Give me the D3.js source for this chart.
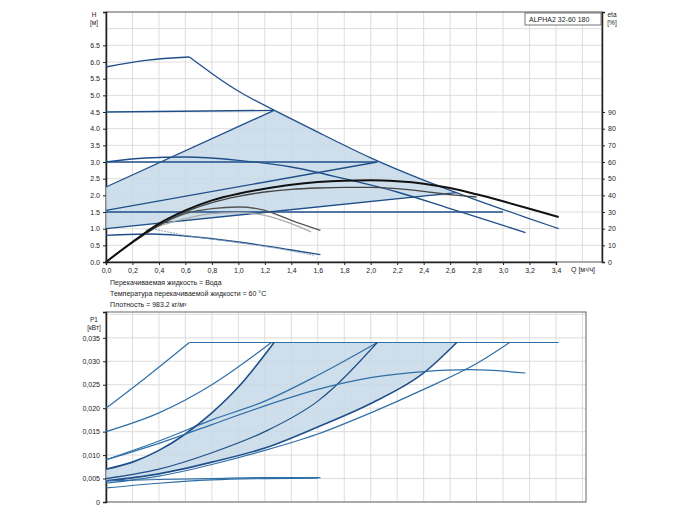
<!DOCTYPE html><html><head><meta charset="utf-8"><script src="https://cdn.jsdelivr.net/npm/d3@7"></script>
<style>body{margin:0;background:#fff}text{font-family:"Liberation Sans",Arial,sans-serif}</style></head><body><svg id="c" width="700" height="525"></svg><script>
const qTicks=[0,0.2,0.4,0.6,0.8,1.0,1.2,1.4,1.6,1.8,2.0,2.2,2.4,2.6,2.8,3.0,3.2,3.4];
const hTicks=[0,0.5,1,1.5,2,2.5,3,3.5,4,4.5,5,5.5,6,6.5];
const etaTicks=[0,10,20,30,40,50,60,70,80,90];
const pTicks=[0,0.005,0.01,0.015,0.02,0.025,0.03,0.035];
const hMaxRise=[[0,5.85],[0.3,6.05],[0.63,6.15]];
const hMax=[[0.63,6.15],[0.8,5.65],[1.0,5.1],[1.27,4.55],[1.6,3.9],[2.0,3.1],[2.4,2.45],[2.8,1.85],[3.2,1.3],[3.42,1.0]];
const hMid=[[0,3.0],[0.3,3.12],[0.6,3.15],[1.0,3.05],[1.4,2.85],[1.8,2.5],[2.2,2.1],[2.6,1.6],[3.0,1.1],[3.17,0.88]];
const hLow=[[0,0.8],[0.35,0.84],[0.6,0.78],[1.0,0.6],[1.4,0.36],[1.62,0.22]];
const hLowDash=[[0.35,1.0],[0.6,0.8],[1.0,0.58],[1.3,0.4],[1.57,0.2]];
const hLines=[[[0,4.5],[1.27,4.55]],[[0,2.25],[1.27,4.55]],[[0,3.0],[2.05,3.0]],[[0,1.55],[2.05,3.0]],[[0,1.5],[3.0,1.5]],[[0,1.0],[2.65,2.08]]];
const shade=[[0,1.0],[0,2.25],[1.27,4.55],[1.6,3.9],[2.0,3.1],[2.4,2.45],[2.65,2.08]];
const eta1=[[0,0],[0.2,0.6],[0.4,1.15],[0.6,1.55],[0.8,1.85],[1.0,2.05],[1.2,2.2],[1.4,2.32],[1.6,2.4],[1.8,2.44],[2.0,2.45],[2.2,2.42],[2.4,2.35],[2.6,2.22],[2.8,2.03],[3.0,1.82],[3.2,1.6],[3.42,1.35]];
const eta2=[[0,0],[0.2,0.58],[0.4,1.1],[0.6,1.5],[0.8,1.78],[1.0,1.97],[1.2,2.1],[1.4,2.18],[1.6,2.22],[1.8,2.24],[2.0,2.24],[2.2,2.2],[2.4,2.12],[2.6,2.02],[2.8,1.95]];
const eta3=[[0,0],[0.2,0.6],[0.4,1.1],[0.6,1.45],[0.8,1.6],[1.0,1.65],[1.2,1.55],[1.4,1.25],[1.62,0.95]];
const eta4=[[0.3,0.95],[0.6,1.3],[0.8,1.45],[1.0,1.48],[1.2,1.4],[1.4,1.15],[1.55,0.9]];
const p1=[[0,0.020],[0.3,0.0265],[0.63,0.034]];
const p1Flat=[[0.63,0.034],[3.42,0.034]];
const p2=[[0,0.015],[0.4,0.019],[0.8,0.025],[1.25,0.034]];
const p3=[[0,0.009],[0.4,0.013],[0.8,0.0175],[1.2,0.0215],[1.6,0.027],[2.05,0.034]];
const p4=[[0,0.007],[0.2,0.0085],[0.4,0.011],[0.6,0.0145],[0.8,0.019],[1.0,0.0245],[1.27,0.034]];
const p5=[[0,0.005],[0.4,0.007],[0.8,0.0105],[1.2,0.015],[1.6,0.0215],[2.05,0.034]];
const p6=[[0,0.0045],[0.4,0.006],[0.8,0.0085],[1.2,0.0115],[1.6,0.016],[2.0,0.021],[2.4,0.0275],[2.65,0.034]];
const p7=[[0,0.004],[0.4,0.0055],[0.8,0.008],[1.2,0.011],[1.6,0.0145],[2.0,0.019],[2.4,0.024],[2.8,0.0295],[3.05,0.034]];
const p8=[[0,0.009],[0.4,0.0125],[0.8,0.0165],[1.2,0.0205],[1.6,0.024],[2.0,0.0265],[2.4,0.0278],[2.75,0.0282],[3.17,0.0275]];
const p9=[[0,0.003],[0.4,0.004],[0.8,0.0047],[1.2,0.005],[1.6,0.0051]];
const p10=[[0,0.0045],[0.4,0.0048],[0.8,0.005],[1.2,0.0052],[1.62,0.0052]];
const pShade=[[0,0.0045],[0,0.007],[0.2,0.0085],[0.4,0.011],[0.6,0.0145],[0.8,0.019],[1.0,0.0245],[1.27,0.034],[2.65,0.034],[2.4,0.0275],[2.0,0.021],[1.6,0.016],[1.2,0.0115],[0.8,0.0085],[0.4,0.006]];
const notes=["Перекачиваемая жидкость = Вода","Температура перекачиваемой жидкости = 60 °C","Плотность = 983.2 кг/м³"];

const svg=d3.select("#c");
const x=d3.scaleLinear().domain([0,3.4]).range([106,556]);
const L=106;
const yH=d3.scaleLinear().domain([0,7.5]).range([262,12]);
const yE=d3.scaleLinear().domain([0,150]).range([262,12]);
const yP=d3.scaleLinear().domain([0,0.0405]).range([502,312]);
const blue="#2f6fa8",dark="#1f4f8a";
const styleAx=a=>{a.select(".domain").attr("stroke","#222").attr("stroke-width",1.5);a.selectAll("text").attr("font-size",7).attr("fill","#222");a.selectAll(".tick line").attr("stroke","#222")};
function panel(y,T,B,R,ticks,extra,fmt,xLabels){
  const g=svg.append("g");
  d3.range(0,3.8,0.2).filter(v=>x(v)<R-1).forEach(v=>g.append("line").attr("x1",x(v)).attr("x2",x(v)).attr("y1",T).attr("y2",B).attr("stroke","#d4d4d4").attr("stroke-width",0.8));
  ticks.concat(extra).forEach(v=>g.append("line").attr("x1",L).attr("x2",R).attr("y1",y(v)).attr("y2",y(v)).attr("stroke","#d4d4d4").attr("stroke-width",0.8));
  g.append("rect").attr("x",L).attr("y",T).attr("width",R-L).attr("height",B-T).attr("fill","none").attr("stroke","#666").attr("stroke-width",1);
  g.append("g").attr("transform",`translate(${L},0)`).call(d3.axisLeft(y).tickValues(ticks).tickFormat(fmt).tickSize(3)).call(styleAx);
  if(xLabels) g.append("g").attr("transform",`translate(0,${B})`).call(d3.axisBottom(x).tickValues(qTicks).tickFormat(d=>d3.format(".1f")(d).replace(".",",")).tickSize(3)).call(styleAx);
}
panel(yH,12,262,602,hTicks,[7,7.5],d3.format(".1f"),true);
svg.append("g").attr("transform",`translate(602,0)`).call(d3.axisRight(yE).tickValues(etaTicks).tickSize(3)).call(styleAx);
panel(yP,312,502,586,pTicks,[0.04],d=>d===0?"0":d3.format(".3f")(d).replace(".",","),false);
const lnH=d3.line().x(d=>x(d[0])).y(d=>yH(d[1])).curve(d3.curveMonotoneX);
const lnP=d3.line().x(d=>x(d[0])).y(d=>yP(d[1])).curve(d3.curveMonotoneX);
const linH=d3.line().x(d=>x(d[0])).y(d=>yH(d[1]));
svg.append("path").attr("d",linH(shade)+"Z").attr("fill","#c6d8e6").attr("opacity",0.85);
svg.append("path").attr("d",d3.line().x(d=>x(d[0])).y(d=>yP(d[1]))(pShade)+"Z").attr("fill","#c6d8e6").attr("opacity",0.85);
svg.append("path").attr("d",d3.line().x(d=>x(d[0])).y(d=>yH(d[1])).curve(d3.curveBasis)(hMax)).attr("fill","none").attr("stroke",dark).attr("stroke-width",1.3);
[hMaxRise,hMid,hLow].forEach(d=>svg.append("path").attr("d",lnH(d)).attr("fill","none").attr("stroke",dark).attr("stroke-width",1.3));
svg.append("path").attr("d",lnH(hLowDash)).attr("fill","none").attr("stroke","#8aa6c0").attr("stroke-width",1).attr("stroke-dasharray","2,1");
hLines.forEach(d=>svg.append("path").attr("d",linH(d)).attr("fill","none").attr("stroke",dark).attr("stroke-width",1.3));
svg.append("path").attr("d",lnH(eta4)).attr("fill","none").attr("stroke","#aaa").attr("stroke-width",1.2);
svg.append("path").attr("d",lnH(eta3)).attr("fill","none").attr("stroke","#555").attr("stroke-width",1.3);
svg.append("path").attr("d",lnH(eta2)).attr("fill","none").attr("stroke","#444").attr("stroke-width",1.3);
svg.append("path").attr("d",lnH(eta1)).attr("fill","none").attr("stroke","#111").attr("stroke-width",2);
svg.append("path").attr("d",d3.line().x(d=>x(d[0])).y(d=>yP(d[1])).curve(d3.curveNatural)(p1)).attr("fill","none").attr("stroke",blue).attr("stroke-width",1.2);
svg.append("path").attr("d",lnP(p1Flat)).attr("fill","none").attr("stroke",blue).attr("stroke-width",1.2);
[p2,p3,p4,p5,p6,p7,p8,p9,p10].forEach((d,i)=>svg.append("path").attr("d",lnP(d)).attr("fill","none").attr("stroke",[2,3,4].includes(i)?dark:blue).attr("stroke-width",[2,4].includes(i)?1.6:1.2));
const t=(x0,y0,s,fs,anchor)=>svg.append("text").attr("x",x0).attr("y",y0).text(s).attr("font-size",fs||7).attr("fill","#222").attr("text-anchor",anchor||"start");
t(94,17,"H",6.5,"middle");t(94,25,"[м]",6.5,"middle");
t(612,17,"eta",6.5,"middle");t(612,25,"[%]",6.5,"middle");
t(94,322,"P1",6.5,"middle");t(94,330,"[кВт]",6.5,"middle");
t(571,272,"Q [м³/ч]",7);
svg.append("rect").attr("x",525).attr("y",13).attr("width",76).attr("height",12).attr("fill","#fff").attr("stroke","#555").attr("stroke-width",0.8);
t(529,22,"ALPHA2 32-60 180",7);
notes.forEach((s,i)=>t(110,285+i*11,s,7));
</script></body></html>
